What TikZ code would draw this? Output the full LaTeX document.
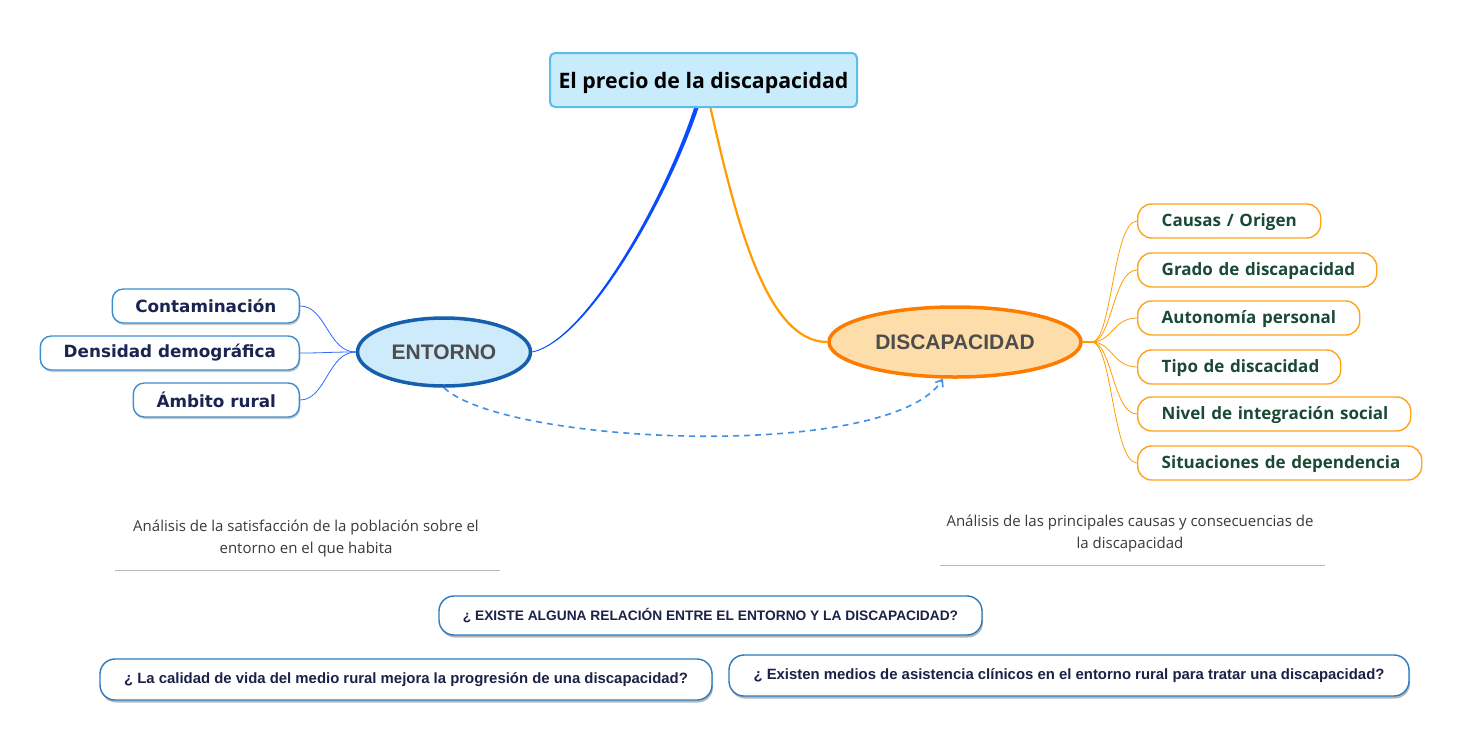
\documentclass[tikz,border=0pt]{standalone}
\usepackage{fontspec}
\usetikzlibrary{shapes.geometric,shadows,backgrounds,arrows.meta,calc}
\newfontfamily\opens{Open Sans}
\newfontfamily\dejavu{DejaVu Sans}
\newfontfamily\libs{Liberation Sans}
\definecolor{titlefill}{HTML}{C8ECFB}
\definecolor{titledraw}{HTML}{5BBDE8}
\definecolor{entfill}{HTML}{CDEBFB}
\definecolor{entdraw}{HTML}{1560AE}
\definecolor{disfill}{HTML}{FDDEAA}
\definecolor{disdraw}{HTML}{FF7B00}
\definecolor{lchild}{HTML}{3B8ED0}
\definecolor{ltext}{HTML}{1A2450}
\definecolor{rchild}{HTML}{FFA31A}
\definecolor{rtext}{HTML}{1A4A33}
\definecolor{mainblue}{HTML}{0A4BFF}
\definecolor{thinblue}{HTML}{2F6BFF}
\definecolor{mainorange}{HTML}{FF9D00}
\definecolor{dashblue}{HTML}{3F8FE6}
\definecolor{qdraw}{HTML}{2B7BC0}
\definecolor{qtext}{HTML}{1B2247}
\definecolor{desctext}{HTML}{3A3A3A}
\definecolor{descline}{HTML}{BBBBBB}
\definecolor{bubbletext}{HTML}{4D4D4D}
\newcommand{\lowerby}[2]{\raisebox{-#1}[\height][\depth]{#2}}
\begin{document}
\begin{tikzpicture}[x=1pt,y=-1pt,
  titlebox/.style={draw=titledraw,line width=2pt,fill=titlefill,rounded corners=5pt,
    minimum width=307pt,minimum height=54pt,inner sep=0pt,font=\opens\bfseries\fontsize{21.3}{24}\selectfont},
  bubble/.style={ellipse,line width=3.5pt,inner sep=0pt,font=\libs\bfseries\fontsize{21}{24}\selectfont,text=bubbletext},
  lbox/.style={draw=lchild,line width=1.4pt,fill=white,rounded corners=11pt,minimum height=34pt,inner sep=0pt,
    anchor=east,text=ltext,font=\dejavu\bfseries\fontsize{16.8}{19}\selectfont,
    drop shadow={shadow xshift=1pt,shadow yshift=-2pt,opacity=.35,fill=black!60}},
  rbox/.style={draw=rchild,line width=1.4pt,fill=white,rounded corners=14pt,minimum height=34pt,
    inner xsep=24pt,inner ysep=0pt,text width=#1,align=left,
    anchor=west,text=rtext,font=\opens\bfseries\fontsize{17}{19}\selectfont},
  qbox/.style={draw=qdraw,line width=1.4pt,fill=white,rounded corners=15pt,inner sep=0pt,
    text=qtext,font=\libs\bfseries\fontsize{#1}{17}\selectfont,
    drop shadow={shadow xshift=1pt,shadow yshift=-2.5pt,opacity=.4,fill=black!70}},
  desc/.style={align=center,text=desctext,font=\opens\fontsize{15}{21.5}\selectfont},
  lconn/.style={draw=thinblue,line width=0.8pt},
  rconn/.style={draw=mainorange,line width=0.8pt},
]
\useasboundingbox (0,0) rectangle (1482,742);

% central nodes
\node[titlebox] (title) at (703.5,80) {\lowerby{2.5pt}{El precio de la discapacidad}};
\node[bubble,draw=entdraw,fill=entfill,minimum width=173pt,minimum height=68pt] (ent) at (444,352) {ENTORNO};
\node[bubble,draw=disdraw,fill=disfill,minimum width=252pt,minimum height=70pt] (dis) at (955,342) {DISCAPACIDAD};

% left children
\node[lbox,minimum width=187pt] (c1) at (300,306) {Contaminación};
\node[lbox,minimum width=259pt] (c2) at (300,353) {Densidad demográfica};
\node[lbox,minimum width=166pt] (c3) at (300,400) {Ámbito rural};

% right children
\node[rbox=135pt] (r1) at (1137,221) {\lowerby{1.5pt}{Causas / Origen}};
\node[rbox=191pt] (r2) at (1137,270) {\lowerby{1.5pt}{Grado de discapacidad}};
\node[rbox=174pt] (r3) at (1137,318) {\lowerby{1.5pt}{Autonomía personal}};
\node[rbox=155pt] (r4) at (1137,367) {\lowerby{1.5pt}{Tipo de discacidad}};
\node[rbox=225pt] (r5) at (1137,414) {\lowerby{1.5pt}{Nivel de integración social}};
\node[rbox=236pt] (r6) at (1137,463) {\lowerby{1.5pt}{Situaciones de dependencia}};

% descriptions
\node[desc] (d1) at (306,538.5) {Análisis de la satisfacción de la población sobre el\\entorno en el que habita};
\coordinate (d1a) at (115,570);
\coordinate (d1b) at (500,570);
\draw[descline,line width=1pt] (d1a) -- (d1b);
\node[desc] (d2) at (1130,533.5) {Análisis de las principales causas y consecuencias de\\la discapacidad};
\coordinate (d2a) at (940,565);
\coordinate (d2b) at (1325,565);
\draw[descline,line width=1pt] (d2a) -- (d2b);

% questions
\node[qbox=13.75,minimum width=543pt,minimum height=39pt] (q1) at (710.5,615.5) {¿ EXISTE ALGUNA RELACIÓN ENTRE EL ENTORNO Y LA DISCAPACIDAD?};
\node[qbox=14.9,minimum width=612pt,minimum height=41pt] (q2) at (406,679.5) {¿ La calidad de vida del medio rural mejora la progresión de una discapacidad?};
\node[qbox=14.9,minimum width=680pt,minimum height=41pt] (q3) at (1069,675.5) {¿ Existen medios de asistencia clínicos en el entorno rural para tratar una discapacidad?};

\begin{scope}[on background layer]
  \fill[white] (0,0) rectangle (1482,742);
  % main tapered blue connector
  \fill[mainblue] (ent.east) .. controls (585,341) and (664,200) .. ([xshift=-9.5pt]title.south)
     -- ([xshift=-5pt]title.south) .. controls (667,201) and (587,342) .. (ent.east) -- cycle;
  \draw[mainblue,line width=0.8pt] (ent.east) .. controls (585,341) and (665,200) .. ([xshift=-7pt]title.south);
  % main orange connector
  \draw[mainorange,line width=2.2pt] ([xshift=7pt]title.south) .. controls (735,215) and (765,342) .. (dis.west);
  % left thin connectors
  \foreach \c in {c1,c2,c3}{
    \draw[lconn] (ent.west) .. controls (328,352) and (326,0|-\c.east) .. (\c.east);
  }
  % right thin connectors
  \coordinate (dstem) at ($(dis.east)+(9,0)$);
  \draw[rconn,line width=1.5pt] (dis.east) -- (dstem);
  \foreach \c in {r1,r2,r3,r4,r5,r6}{
    \draw[rconn] (dstem) .. controls (1112,342) and (1113,0|-\c.west) .. (\c.west);
  }
\end{scope}

% dashed relation
\coordinate (dend) at ([xshift=-12pt]dis.south);
\draw[dashblue,line width=1.6pt,dash pattern=on 6pt off 5pt,-{Straight Barb[length=6pt,width=9pt]}]
  (ent.south) .. controls (505,445) and (890,462) .. (dend);
\end{tikzpicture}
\end{document}
